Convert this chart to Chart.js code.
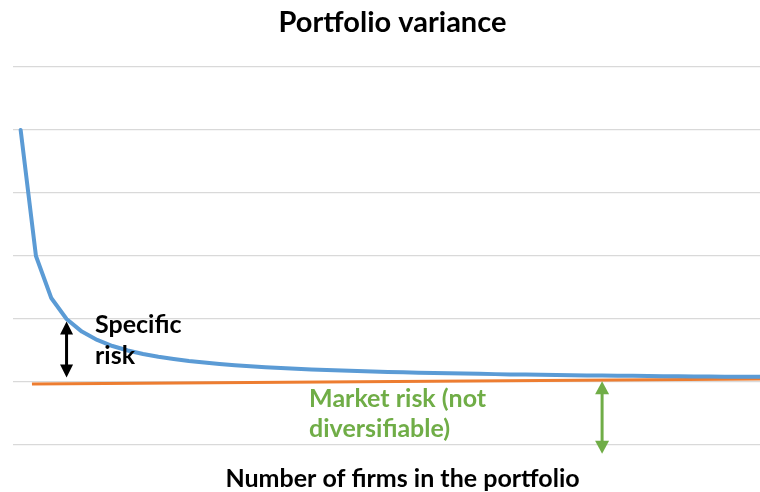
<!DOCTYPE html>
<html>
<head>
<meta charset="utf-8">
<script src="https://cdn.jsdelivr.net/npm/chart.js@4/dist/chart.umd.min.js"></script>
<style>
  html, body { margin: 0; padding: 0; background: #ffffff; }
  #wrap { width: 760px; height: 492px; position: relative; }
</style>
</head>
<body>
<div id="wrap"><canvas id="c" width="760" height="492"></canvas></div>
<script>
// ---- data ----
const chartTitle = "Portfolio variance";
const xAxisTitle = "Number of firms in the portfolio";
const firms = [1,2,3,4,5,6,7,8,9,10,11,12,13,14,15,16,17,18,19,20,21,22,23,24,25,26,27,28,29,30,31,32,33,34,35,36,37,38,39,40,41,42,43,44,45,46,47,48,49,50];
const portfolioVariance = [5.000,3.000,2.333,2.000,1.800,1.667,1.571,1.500,1.444,1.400,1.364,1.333,1.308,1.286,1.267,1.250,1.235,1.222,1.211,1.200,1.190,1.182,1.174,1.167,1.160,1.154,1.148,1.143,1.138,1.133,1.129,1.125,1.121,1.118,1.114,1.111,1.108,1.105,1.103,1.100,1.098,1.095,1.093,1.091,1.089,1.087,1.085,1.083,1.082,1.080];
const marketRiskX = [1.74, 50];
const marketRiskY = [0.97, 1.05];
const yTickValues = [0, 1, 2, 3, 4, 5, 6];
const specificRiskLabel = ["Specific", "risk"];
const marketRiskLabel = ["Market risk (not", "diversifiable)"];

const blueColor = "#5B9BD5";
const orangeColor = "#ED7D31";
const greenColor = "#70AD47";
const FONT = "Lato, 'Open Sans', 'DejaVu Sans', sans-serif";

function drawDoubleArrow(ctx, x, y1, y2, color, shaftW, headW, headL) {
  ctx.save();
  ctx.fillStyle = color;
  ctx.strokeStyle = color;
  ctx.lineWidth = shaftW;
  ctx.beginPath();
  ctx.moveTo(x, y1 + headL - 1);
  ctx.lineTo(x, y2 - headL + 1);
  ctx.stroke();
  ctx.beginPath();
  ctx.moveTo(x, y1);
  ctx.lineTo(x - headW / 2, y1 + headL);
  ctx.lineTo(x + headW / 2, y1 + headL);
  ctx.closePath();
  ctx.fill();
  ctx.beginPath();
  ctx.moveTo(x, y2);
  ctx.lineTo(x - headW / 2, y2 - headL);
  ctx.lineTo(x + headW / 2, y2 - headL);
  ctx.closePath();
  ctx.fill();
  ctx.restore();
}

const annotationPlugin = {
  id: "annotations",
  afterDraw(chart) {
    const ctx = chart.ctx;
    const xs = chart.scales.x, ys = chart.scales.y;
    const ca = chart.chartArea;
    ctx.save();
    // title
    ctx.fillStyle = "#000000";
    ctx.textAlign = "center";
    ctx.textBaseline = "alphabetic";
    ctx.font = "bold 29px " + FONT;
    ctx.fillText(chartTitle, (ca.left + ca.right) / 2 + 6, 32);
    // x-axis title
    ctx.font = "bold 25px " + FONT;
    ctx.fillText(xAxisTitle, (ca.left + ca.right) / 2 + 16, 487);

    // specific risk arrow and label
    drawDoubleArrow(ctx, xs.getPixelForValue(4), ys.getPixelForValue(1.96), ys.getPixelForValue(1.07), "#000000", 3, 13, 13);
    ctx.textAlign = "left";
    ctx.font = "bold 25px " + FONT;
    ctx.fillStyle = "#000000";
    const sx = xs.getPixelForValue(5.86), sy = ys.getPixelForValue(1.78);
    ctx.fillText(specificRiskLabel[0], sx, sy);
    ctx.fillText(specificRiskLabel[1], sx, sy + 31);

    // market risk arrow and label
    drawDoubleArrow(ctx, xs.getPixelForValue(39), ys.getPixelForValue(1.01), ys.getPixelForValue(-0.138), greenColor, 3, 14, 13);
    ctx.fillStyle = greenColor;
    const mx = xs.getPixelForValue(19.85), my = ys.getPixelForValue(0.61);
    ctx.fillText(marketRiskLabel[0], mx, my);
    ctx.fillText(marketRiskLabel[1], mx, my + 30);
    ctx.restore();
  }
};

new Chart(document.getElementById("c"), {
  type: "line",
  data: {
    datasets: [
      {
        label: "Portfolio variance",
        data: firms.map((n, i) => ({ x: n, y: portfolioVariance[i] })),
        borderColor: blueColor,
        borderWidth: 4,
        pointRadius: 0,
        tension: 0,
        borderCapStyle: "round",
        borderJoinStyle: "round",
        fill: false
      },
      {
        label: "Market risk",
        data: marketRiskX.map((x, i) => ({ x: x, y: marketRiskY[i] })),
        borderColor: orangeColor,
        borderWidth: 3,
        pointRadius: 0,
        tension: 0,
        fill: false
      }
    ]
  },
  options: {
    responsive: false,
    animation: false,
    events: [],
    layout: { padding: { top: 67, left: 13, right: 0, bottom: 47 } },
    plugins: {
      legend: { display: false },
      title: { display: false },
      tooltip: { enabled: false }
    },
    scales: {
      x: {
        type: "linear",
        display: false,
        min: 0.5,
        max: 49.32
      },
      y: {
        type: "linear",
        min: yTickValues[0],
        max: yTickValues[yTickValues.length - 1],
        afterBuildTicks(scale) { scale.ticks = yTickValues.map(v => ({ value: v })); },
        ticks: { display: false },
        border: { display: false },
        grid: { color: "#D9D9D9", lineWidth: 1.3, drawTicks: false }
      }
    }
  },
  plugins: [annotationPlugin]
});
</script>
</body>
</html>
